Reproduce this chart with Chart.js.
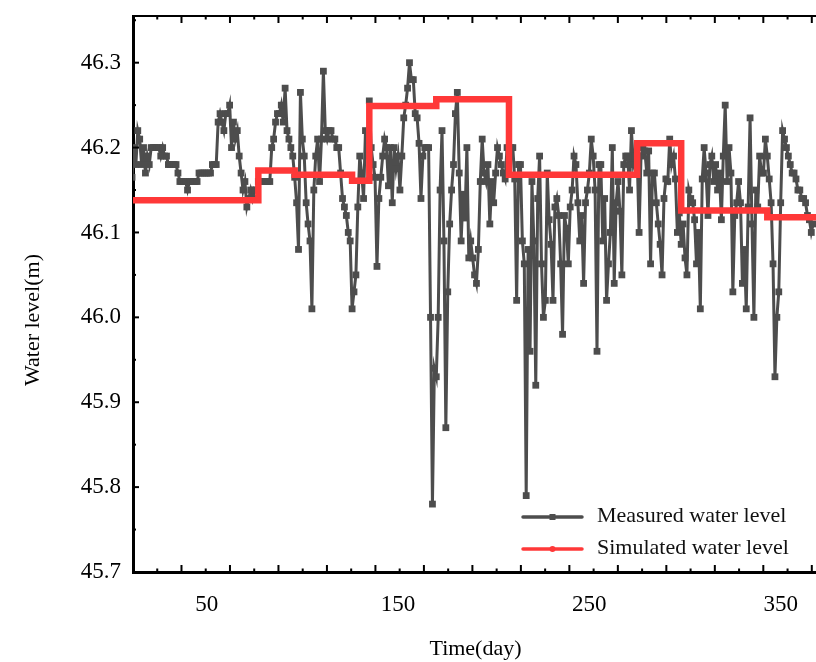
<!DOCTYPE html>
<html>
<head>
<meta charset="utf-8">
<script src="https://cdn.jsdelivr.net/npm/chart.js@4.4.0/dist/chart.umd.min.js"></script>
<style>
  html, body { margin: 0; padding: 0; background: #fff; overflow: hidden; }
  #wrap { width: 816px; height: 662px; overflow: hidden; }
  canvas { display: block; }
</style>
</head>
<body>
<div id="wrap"><canvas id="chart" width="840" height="662"></canvas></div>
<script>
// daily measured level, first value is day 11
const firstDay = 11;
const measuredLevel = [
  46.165, 46.20, 46.18, 46.22, 46.21, 46.18, 46.20, 46.17, 46.19, 46.18,
  46.20, 46.20, 46.20, 46.20, 46.20, 46.19, 46.20, 46.19, 46.19, 46.18,
  46.18, 46.18, 46.18, 46.18, 46.17, 46.16, 46.16, 46.16, 46.16, 46.15,
  46.16, 46.16, 46.16, 46.16, 46.16, 46.17, 46.17, 46.17, 46.17, 46.17,
  46.17, 46.17, 46.18, 46.18, 46.18, 46.23, 46.24, 46.23, 46.22, 46.24,
  46.24, 46.25, 46.20, 46.23, 46.21, 46.22, 46.19, 46.17, 46.15, 46.16,
  46.13, 46.14, 46.15, 46.14, 46.15, 46.15, 46.16, 46.16, 46.16, 46.16,
  46.16, 46.16, 46.16, 46.20, 46.21, 46.23, 46.24, 46.24, 46.25, 46.23,
  46.27, 46.22, 46.21, 46.20, 46.19, 46.165, 46.135, 46.08, 46.265, 46.21,
  46.19, 46.135, 46.11, 46.09, 46.01, 46.15, 46.19, 46.21, 46.16, 46.21,
  46.29, 46.22, 46.21, 46.22, 46.22, 46.21, 46.21, 46.20, 46.20, 46.17,
  46.14, 46.13, 46.12, 46.10, 46.09, 46.01, 46.03, 46.05, 46.13, 46.19,
  46.17, 46.14, 46.22, 46.19, 46.255, 46.20, 46.18, 46.165, 46.06, 46.14,
  46.165, 46.19, 46.21, 46.20, 46.155, 46.20, 46.135, 46.20, 46.175, 46.19,
  46.15, 46.19, 46.235, 46.25, 46.27, 46.30, 46.28, 46.28, 46.24, 46.235,
  46.205, 46.14, 46.19, 46.20, 46.20, 46.20, 46.00, 45.78, 45.94, 45.93,
  46.00, 46.15, 46.22, 46.09, 45.87, 46.03, 46.11, 46.15, 46.18, 46.24,
  46.265, 46.17, 46.09, 46.145, 46.117, 46.20, 46.07, 46.09, 46.07, 46.05,
  46.04, 46.08, 46.16, 46.21, 46.17, 46.16, 46.18, 46.11, 46.16, 46.135,
  46.17, 46.20, 46.19, 46.18, 46.17, 46.163, 46.20, 46.20, 46.20, 46.20,
  46.163, 46.02, 46.18, 46.18, 46.09, 46.063, 45.79, 46.08, 45.96, 46.16,
  46.09, 45.92, 46.14, 46.19, 46.063, 46.00, 46.02, 46.17, 46.115, 46.086,
  46.02, 46.13, 46.14, 46.12, 46.063, 45.98, 46.12, 46.105, 46.063, 46.13,
  46.15, 46.19, 46.18, 46.135, 46.09, 46.12, 46.04, 46.135, 46.15, 46.17,
  46.21, 46.19, 46.15, 45.96, 46.18, 46.18, 46.09, 46.14, 46.02, 46.063,
  46.10, 46.20, 46.04, 46.135, 46.16, 46.125, 46.05, 46.18, 46.19, 46.19,
  46.15, 46.22, 46.18, 46.19, 46.19, 46.10, 46.19, 46.20, 46.196, 46.17,
  46.196, 46.063, 46.17, 46.17, 46.135, 46.11, 46.086, 46.05, 46.14, 46.163,
  46.16, 46.21, 46.18, 46.19, 46.163, 46.10, 46.123, 46.086, 46.11, 46.07,
  46.05, 46.15, 46.14, 46.135, 46.115, 46.063, 46.10, 46.01, 46.163, 46.20,
  46.17, 46.12, 46.18, 46.19, 46.16, 46.18, 46.15, 46.17, 46.115, 46.19,
  46.25, 46.16, 46.20, 46.17, 46.03, 46.12, 46.135, 46.16, 46.135, 46.04,
  46.08, 46.01, 46.13, 46.235, 46.11, 46.00, 46.15, 46.13, 46.19, 46.17,
  46.17, 46.21, 46.19, 46.163, 46.135, 46.063, 45.93, 46.00, 46.03, 46.135,
  46.22, 46.21, 46.20, 46.19, 46.18, 46.17, 46.17, 46.163, 46.15, 46.15,
  46.14, 46.14, 46.135, 46.12, 46.115, 46.10, 46.11
];

// simulated level is constant between these days
const simStepDay = [11.5, 77, 96, 126, 135, 170, 208, 275, 298, 343, 369.5];
const simLevel   = [46.138, 46.173, 46.168, 46.161, 46.249, 46.257, 46.168, 46.205, 46.126, 46.118, 46.118];

const seriesNames = ['Measured water level', 'Simulated water level'];
const xTickLabels = [50, 150, 250, 350];
const yTickValues = [45.7, 45.8, 45.9, 46.0, 46.1, 46.2, 46.3];
const xRange = [11.5, 369.5];
const yRange = [45.7, 46.355];
const xMarkStep = 12.67;   // spacing of the small inner tick marks, days
const yTitle = 'Water level(m)';

const serif = 'Liberation Serif';

// inward tick marks on bottom, top and left, plus the top frame line
const frameTicks = {
  id: 'frameTicks',
  afterDraw(chart) {
    const { ctx, chartArea: a, scales: { x, y } } = chart;
    ctx.save();
    ctx.strokeStyle = '#000';
    ctx.lineWidth = 2;
    ctx.beginPath();
    ctx.moveTo(a.left, a.top);
    ctx.lineTo(a.right, a.top);
    ctx.stroke();
    for (let k = 1; x.min + k * xMarkStep <= x.max; k++) {
      const px = x.getPixelForValue(x.min + k * xMarkStep);
      const len = k % 2 === 0 ? 7 : 3.5;
      ctx.beginPath();
      ctx.moveTo(px, a.bottom);
      ctx.lineTo(px, a.bottom - len);
      ctx.moveTo(px, a.top);
      ctx.lineTo(px, a.top + len);
      ctx.stroke();
    }
    yTickValues.forEach(v => {
      [[v, 6], [v + 0.05, 3]].forEach(([t, len]) => {
        if (t > y.max) return;
        const py = y.getPixelForValue(t);
        ctx.beginPath();
        ctx.moveTo(a.left, py);
        ctx.lineTo(a.left + len, py);
        ctx.stroke();
      });
    });
    // y axis title, sits a little below the middle of the axis
    ctx.translate(33, (a.top + a.bottom) / 2 + 26);
    ctx.rotate(-Math.PI / 2);
    ctx.fillStyle = '#000';
    ctx.font = '22px "' + serif + '"';
    ctx.textAlign = 'center';
    ctx.textBaseline = 'middle';
    ctx.fillText(yTitle, 0, 0);
    ctx.restore();
  }
};

// legend drawn inside the plot, lower right
const legendBox = {
  id: 'legendBox',
  afterDatasetsDraw(chart) {
    const { ctx, chartArea: a } = chart;
    const x0 = a.left + 390, x1 = a.left + 449, tx = a.left + 464;
    const rows = [a.bottom - 55, a.bottom - 23];
    ctx.save();
    chart.data.datasets.forEach((ds, i) => {
      const yy = rows[i];
      ctx.strokeStyle = ds.borderColor;
      ctx.fillStyle = ds.borderColor;
      ctx.lineWidth = 3.5;
      ctx.lineCap = 'round';
      ctx.beginPath();
      ctx.moveTo(x0, yy);
      ctx.lineTo(x1, yy);
      ctx.stroke();
      const mx = (x0 + x1) / 2;
      if (i === 0) ctx.fillRect(mx - 3, yy - 3, 6, 6);
      else { ctx.beginPath(); ctx.arc(mx, yy, 3, 0, Math.PI * 2); ctx.fill(); }
      ctx.fillStyle = '#111';
      ctx.font = '22px "' + serif + '"';
      ctx.textBaseline = 'middle';
      ctx.fillText(ds.label, tx, yy - 1);
    });
    ctx.restore();
  }
};

new Chart(document.getElementById('chart'), {
  type: 'line',
  data: {
    datasets: [
      {
        label: seriesNames[0],
        data: measuredLevel.map((v, i) => ({ x: firstDay + i, y: v })),
        borderColor: '#4d4d4d',
        backgroundColor: '#4d4d4d',
        borderWidth: 3,
        pointStyle: 'rect',
        pointRadius: 4.8,
        pointBorderWidth: 0,
        order: 2
      },
      {
        label: seriesNames[1],
        data: simStepDay.map((d, i) => ({ x: d, y: simLevel[i] })),
        borderColor: '#ff3838',
        borderWidth: 6.5,
        pointRadius: 0,
        stepped: true,
        order: 1
      }
    ]
  },
  options: {
    responsive: false,
    animation: false,
    layout: { padding: { top: 16, right: 22, bottom: 0, left: 0 } },
    plugins: { legend: { display: false }, tooltip: { enabled: false } },
    scales: {
      x: {
        type: 'linear',
        min: xRange[0],
        max: xRange[1],
        afterBuildTicks: s => { s.ticks = xTickLabels.map(v => ({ value: v })); },
        afterFit: s => { s.height = 90; s.paddingLeft = 0; s.paddingRight = 0; },
        grid: { display: false, drawTicks: false },
        border: { color: '#000', width: 3 },
        ticks: { color: '#000', font: { family: serif, size: 23 }, padding: 19, maxRotation: 0, autoSkip: false },
        title: { display: true, text: 'Time(day)', color: '#000', font: { family: serif, size: 22 }, padding: { top: 0, bottom: 0 } }
      },
      y: {
        min: yRange[0],
        max: yRange[1],
        afterBuildTicks: s => { s.ticks = yTickValues.map(v => ({ value: v })); },
        afterFit: s => { s.width = 133; s.paddingTop = 0; s.paddingBottom = 0; },
        grid: { display: false, drawTicks: false },
        border: { color: '#000', width: 3 },
        ticks: { color: '#000', font: { family: serif, size: 23 }, padding: 12, callback: v => v.toFixed(1) },
        title: { display: false }
      }
    }
  },
  plugins: [frameTicks, legendBox]
});
</script>
</body>
</html>
